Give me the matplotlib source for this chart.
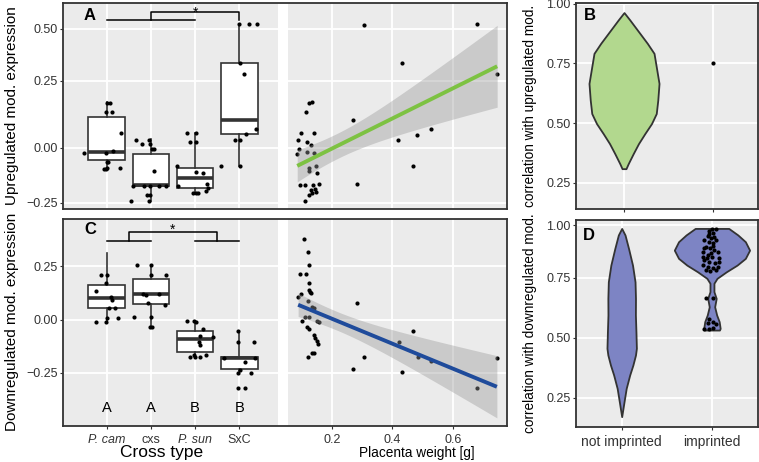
import numpy as np
import matplotlib
matplotlib.use('Agg')
import matplotlib.pyplot as plt
from matplotlib.ticker import NullLocator

plt.rcParams['font.family'] = ['Liberation Sans', 'DejaVu Sans']

# ------------------------------------------------------------------ data
cross_types = ['P. cam', 'cxs', 'P. sun', 'SxC']
cross_italic = [True, False, True, False]
group_letters = ['A', 'A', 'B', 'B']
imprint_cats = ['not imprinted', 'imprinted']

# Panel A boxplot statistics (upregulated module expression)
A_q1 = [-0.056, -0.173, -0.185, 0.050]
A_med = [-0.021, -0.170, -0.139, 0.103]
A_q3 = [0.116, -0.030, -0.091, 0.334]
A_lo = [-0.101, -0.241, -0.205, -0.083]
A_hi = [0.172, 0.031, 0.056, 0.523]

# Panel A jittered points (jittered category position, value)
A_pts_x = [1.014, 1.075, 0.984, 1.113, 1.317, 0.486, 0.984, 1.149, 1.036, 1.014, 0.939, 0.984, 1.0, 1.301,
           1.667, 1.796, 1.968, 1.984, 2.023, 2.075, 2.075, 1.606, 1.833, 1.984, 2.172, 2.346, 1.923, 1.984, 1.548, 1.968,
           2.826, 3.023, 2.887, 3.023, 2.593, 3.023, 3.188, 2.609, 3.265, 2.955, 3.023, 3.057, 3.242, 3.299,
           4.0, 4.219, 4.407, 4.016, 4.113, 4.378, 4.152, 3.903, 4.016, 3.579, 4.016]
A_pts_y = [0.168, 0.168, 0.134, 0.134, 0.056, -0.025, -0.023, -0.015, -0.065, -0.065, -0.097, -0.097, -0.094, -0.094,
           0.029, 0.013, 0.029, 0.013, -0.007, -0.007, -0.106, -0.173, -0.173, -0.173, -0.173, -0.173, -0.215, -0.215, -0.241, -0.241,
           0.056, 0.056, 0.020, 0.020, -0.082, -0.110, -0.114, -0.174, -0.165, -0.205, -0.205, -0.205, -0.195, -0.184,
           0.523, 0.523, 0.523, 0.334, 0.282, 0.069, 0.050, 0.029, 0.029, -0.083, -0.083]

# Panel C boxplot statistics (downregulated module expression)
C_q1 = [0.056, 0.072, -0.150, -0.233]
C_med = [0.100, 0.119, -0.092, -0.181]
C_q3 = [0.163, 0.190, -0.053, -0.177]
C_lo = [-0.014, -0.030, -0.174, -0.241]
C_hi = [0.312, 0.257, -0.005, -0.053]

C_pts_x = [0.871, 1.014, 0.751, 0.995, 1.097, 1.109, 1.059, 1.188, 1.251, 0.769, 0.991, 1.0,
           1.690, 1.991, 2.342, 2.0, 1.826, 1.898, 2.172, 1.928, 2.324, 1.615, 2.0, 1.973, 2.018,
           2.819, 2.982, 3.023, 3.188, 3.396, 3.113, 3.086, 3.113, 2.968, 3.249, 2.887, 3.0, 3.113,
           3.971, 3.982, 4.339, 3.665, 4.355, 4.122, 4.016, 3.975, 4.274, 3.966, 4.136]
C_pts_y = [0.210, 0.210, 0.135, 0.172, 0.107, 0.092, 0.055, 0.055, 0.007, -0.009, -0.009, 0.007,
           0.255, 0.255, 0.210, 0.210, 0.119, 0.117, 0.119, 0.077, 0.069, 0.014, 0.014, -0.032, -0.032,
           -0.005, -0.005, -0.010, -0.045, -0.083, -0.077, -0.105, -0.120, -0.166, -0.166, -0.174, -0.174, -0.174,
           -0.053, -0.106, -0.106, -0.181, -0.181, -0.199, -0.236, -0.248, -0.248, -0.322, -0.322]

# Scatter: placenta weight vs upregulated module expression
SA_x = [0.307, 0.681, 0.747, 0.433, 0.271, 0.527, 0.483, 0.420, 0.469, 0.285,
        0.126, 0.134, 0.114, 0.100, 0.143, 0.090, 0.117, 0.131, 0.093, 0.086, 0.119, 0.140, 0.148,
        0.124, 0.124, 0.152, 0.096, 0.112, 0.139, 0.158, 0.145, 0.136, 0.126, 0.112, 0.131, 0.148]
SA_y = [0.519, 0.523, 0.282, 0.334, 0.103, 0.069, 0.049, 0.029, -0.082, -0.164,
        0.166, 0.171, 0.134, 0.056, 0.056, 0.029, 0.022, 0.009, -0.007, -0.028, -0.018, -0.023, -0.082,
        -0.094, -0.106, -0.115, -0.168, -0.170, -0.170, -0.164, -0.188, -0.205, -0.215, -0.241, -0.192, -0.200]

# Scatter: placenta weight vs downregulated module expression
SC_x = [0.110, 0.121, 0.126, 0.095, 0.115, 0.126, 0.126, 0.131, 0.128, 0.089, 0.099, 0.123, 0.135, 0.142,
        0.112, 0.125, 0.151, 0.159, 0.101, 0.117, 0.125, 0.140, 0.145, 0.150, 0.154, 0.135, 0.143, 0.120,
        0.285, 0.307, 0.272, 0.469, 0.421, 0.484, 0.528, 0.432, 0.679, 0.746]
SC_y = [0.379, 0.316, 0.257, 0.215, 0.213, 0.174, 0.139, 0.124, 0.131, 0.109, 0.121, 0.088, 0.062, 0.057,
        0.014, 0.013, -0.006, -0.012, -0.006, -0.032, -0.044, -0.074, -0.085, -0.102, -0.113, -0.154, -0.156, -0.174,
        0.080, -0.175, -0.230, -0.052, -0.103, -0.177, -0.194, -0.244, -0.319, -0.178]

# Violin outlines (value, half-width in category units)
B_not_v = [0.963, 0.932, 0.876, 0.834, 0.792, 0.736, 0.666, 0.596, 0.540, 0.498, 0.456, 0.414, 0.372, 0.330, 0.309]
B_not_hw = [0.0, 0.065, 0.177, 0.261, 0.336, 0.361, 0.392, 0.378, 0.361, 0.308, 0.233, 0.162, 0.103, 0.047, 0.022]
B_imp_x = [1.996]
B_imp_y = [0.75]

D_not_v = [0.984, 0.953, 0.889, 0.810, 0.733, 0.664, 0.595, 0.525, 0.456, 0.428, 0.386, 0.345, 0.289, 0.233, 0.171]
D_not_hw = [0.0, 0.037, 0.076, 0.120, 0.148, 0.153, 0.152, 0.158, 0.163, 0.153, 0.124, 0.089, 0.050, 0.026, 0.0]
D_imp_v = [0.984, 0.953, 0.921, 0.881, 0.842, 0.810, 0.778, 0.7475, 0.727, 0.692, 0.664, 0.629, 0.595, 0.567, 0.539, 0.532]
D_imp_hw = [0.186, 0.287, 0.370, 0.417, 0.370, 0.278, 0.158, 0.056, 0.022, 0.022, 0.047, 0.030, 0.052, 0.080, 0.091, 0.083]
D_imp_px = [2.0, 2.044, 1.970, 2.015, 1.952, 1.989, 1.915, 1.963, 2.007, 1.933,
            1.978, 2.026, 2.063, 1.896, 1.952, 2.0, 2.081, 1.915, 1.970, 2.037,
            1.896, 1.952, 2.007, 1.978, 2.044, 1.933, 2.081, 1.915, 2.044, 1.989,
            1.941, 2.015, 1.896, 2.063, 1.963, 2.026,
            1.933, 2.007, 1.970, 2.007, 1.952, 2.044, 1.915, 1.970, 2.007]
D_imp_py = [0.981, 0.981, 0.972, 0.961, 0.949, 0.937, 0.929, 0.921, 0.913, 0.897,
            0.889, 0.881, 0.873, 0.870, 0.858, 0.850, 0.842, 0.834, 0.826, 0.818,
            0.810, 0.802, 0.795, 0.782, 0.787, 0.787, 0.826, 0.889, 0.929, 0.866,
            0.842, 0.902, 0.850, 0.802, 0.956, 0.944,
            0.664, 0.664, 0.578, 0.567, 0.560, 0.556, 0.535, 0.535, 0.539]

# ------------------------------------------------------------------ helpers
W, H = 759, 462
GREY = '#EBEBEB'
EDGE = '#333333'
TXT = '#333333'


def box(x0, y0, x1, y1):
    return [x0 / W, 1 - y1 / H, (x1 - x0) / W, (y1 - y0) / H]


def piecewise(vals, pos):
    vals = np.asarray(vals, float)
    pos = np.asarray(pos, float)
    s_lo = (pos[1] - pos[0]) / (vals[1] - vals[0])
    s_hi = (pos[-1] - pos[-2]) / (vals[-1] - vals[-2])

    def fwd(v):
        v = np.asarray(v, float)
        out = np.interp(v, vals, pos)
        out = np.where(v < vals[0], pos[0] + (v - vals[0]) * s_lo, out)
        out = np.where(v > vals[-1], pos[-1] + (v - vals[-1]) * s_hi, out)
        return out

    def inv(t):
        t = np.asarray(t, float)
        out = np.interp(t, pos, vals)
        out = np.where(t < pos[0], vals[0] + (t - pos[0]) / s_lo, out)
        out = np.where(t > pos[-1], vals[-1] + (t - pos[-1]) / s_hi, out)
        return out
    return fwd, inv


def style(ax, spines=False):
    ax.set_facecolor(GREY)
    for s in ax.spines.values():
        s.set_visible(spines)
        s.set_color(EDGE)
        s.set_linewidth(1.3)
    ax.grid(True, color='white', lw=1.3)
    ax.set_axisbelow(True)
    ax.tick_params(length=2.5, width=0.8, color=EDGE, labelcolor=TXT, labelsize=9, pad=1.5)
    ax.yaxis.set_minor_locator(NullLocator())
    ax.xaxis.set_minor_locator(NullLocator())


def lm_band(x, y, xs, scale=None, t=2.03):
    """Linear fit with 95% band, computed in the axis' (scaled) y space."""
    x = np.asarray(x, float)
    y = np.asarray(y, float)
    fwd, inv = scale if scale is not None else (lambda v: v, lambda v: v)
    yt = fwd(y)
    b, a = np.polyfit(x, yt, 1)
    yh = a + b * xs
    n = len(x)
    s = np.sqrt(np.sum((yt - (a + b * x)) ** 2) / (n - 2))
    se = s * np.sqrt(1 / n + (xs - x.mean()) ** 2 / np.sum((x - x.mean()) ** 2))
    return inv(yh), inv(yh - t * se), inv(yh + t * se)


def stats(q1, med, q3, lo, hi):
    return [dict(q1=a, med=b, q3=c, whislo=d, whishi=e, fliers=[])
            for a, b, c, d, e in zip(q1, med, q3, lo, hi)]


fig = plt.figure(figsize=(7.59, 4.62), dpi=100)

fA = piecewise([-0.25, 0, 0.25, 0.5], [0, 55, 122, 173.7])
fD = piecewise([0.25, 0.5, 0.75, 1.0], [0, 60, 120, 172.7])

axA = fig.add_axes(box(63, 3, 278, 209)); style(axA)
axAs = fig.add_axes(box(288, 3, 507, 209)); style(axAs)
axC = fig.add_axes(box(63, 219, 278, 426)); style(axC)
axCs = fig.add_axes(box(288, 219, 507, 426)); style(axCs)
axB = fig.add_axes(box(576, 3, 758, 209)); style(axB, True)
axD = fig.add_axes(box(576, 220, 758, 427)); style(axD, True)

for y0, y1 in [(3, 209), (219, 426)]:
    f = fig.add_axes(box(63, y0, 507, y1))
    f.set_facecolor('none')
    f.set_xticks([]); f.set_yticks([])
    for s in f.spines.values():
        s.set_color(EDGE); s.set_linewidth(1.3)
    f.set_zorder(10)

bprops = dict(widths=0.83, patch_artist=True, showcaps=False, showfliers=False,
              boxprops=dict(facecolor='white', edgecolor=EDGE, linewidth=1.2),
              whiskerprops=dict(color=EDGE, linewidth=1.2),
              medianprops=dict(color=EDGE, linewidth=2.6), zorder=2)

# ---------------- Panel A left (boxplot)
for ax in (axA, axAs):
    ax.set_yscale('function', functions=fA)
    ax.set_ylim(-0.2786, 0.6257)
    ax.set_yticks([-0.25, 0, 0.25, 0.5])
    ax.yaxis.set_minor_locator(NullLocator())
axA.set_yticklabels(['\u22120.25', '0.00', '0.25', '0.50'])
axA.bxp(stats(A_q1, A_med, A_q3, A_lo, A_hi), positions=[1, 2, 3, 4], **bprops)
axA.scatter(A_pts_x, A_pts_y, s=9, color='black', lw=0, zorder=3)
axA.set_xlim(0.011, 4.876)
axA.set_xticks([1, 2, 3, 4])
axA.tick_params(axis='x', length=0, labelbottom=False)
axA.plot([1, 3], [0.544, 0.544], color='black', lw=1.1)
axA.plot([2, 2, 4, 4], [0.544, 0.584, 0.584, 0.544], color='black', lw=1.1)
axA.text(3, 0.558, '*', ha='center', va='baseline', fontsize=10, color='black')

# ---------------- Panel A right (scatter)
axAs.scatter(SA_x, SA_y, s=9, color='black', lw=0, zorder=2)
xs = np.linspace(min(SA_x), max(SA_x), 120)
yh, lo, hi = lm_band(SA_x, SA_y, xs, scale=fA)
axAs.fill_between(xs, lo, hi, color='#999999', alpha=0.4, lw=0, zorder=3)
axAs.plot(xs, yh, color='#7DC242', lw=2.8, zorder=4, solid_capstyle='butt')
axAs.set_xlim(0.0555, 0.7795)
axAs.set_xticks([0.2, 0.4, 0.6])
axAs.tick_params(axis='both', length=0, labelbottom=False, labelleft=False)

# ---------------- Panel C left (boxplot)
for ax in (axC, axCs):
    ax.set_ylim(-0.499, 0.473)
    ax.set_yticks([-0.25, 0, 0.25])
axC.set_yticklabels(['\u22120.25', '0.00', '0.25'])
axC.bxp(stats(C_q1, C_med, C_q3, C_lo, C_hi), positions=[1, 2, 3, 4], **bprops)
axC.scatter(C_pts_x, C_pts_y, s=9, color='black', lw=0, zorder=3)
axC.set_xlim(0.011, 4.876)
axC.set_xticks([1, 2, 3, 4])
axC.set_xticklabels(cross_types)
for lab, it in zip(axC.get_xticklabels(), cross_italic):
    if it:
        lab.set_fontstyle('italic')
axC.tick_params(axis='x', pad=3)
axC.plot([1, 2], [0.371, 0.371], color='black', lw=1.1)
axC.plot([3, 4], [0.371, 0.371], color='black', lw=1.1)
axC.plot([1.5, 1.5, 3.5, 3.5], [0.371, 0.413, 0.413, 0.371], color='black', lw=1.1)
axC.text(2.5, 0.402, '*', ha='center', va='baseline', fontsize=10, color='black')
for i, g in enumerate(group_letters):
    axC.text(i + 1, -0.416, g, ha='center', va='center', fontsize=10.5, color='black')

# ---------------- Panel C right (scatter)
axCs.scatter(SC_x, SC_y, s=9, color='black', lw=0, zorder=2)
xs = np.linspace(min(SC_x), max(SC_x), 120)
yh, lo, hi = lm_band(SC_x, SC_y, xs)
axCs.fill_between(xs, lo, hi, color='#999999', alpha=0.4, lw=0, zorder=3)
axCs.plot(xs, yh, color='#1F4B9B', lw=2.8, zorder=4, solid_capstyle='butt')
axCs.set_xlim(0.0555, 0.7795)
axCs.set_xticks([0.2, 0.4, 0.6])
axCs.set_xticklabels(['0.2', '0.4', '0.6'])
axCs.tick_params(axis='y', length=0, labelleft=False)
axCs.tick_params(axis='x', pad=3)

# ---------------- Panel B (violins, upregulated)
vb = np.array(B_not_v); hb = np.array(B_not_hw)
axB.fill_betweenx(vb, 1 - hb, 1 + hb, facecolor='#B2D88E', edgecolor=EDGE, lw=1.3, zorder=2)
axB.scatter(B_imp_x, B_imp_y, s=9, color='black', lw=0, zorder=3)
axB.set_xlim(0.4625, 2.5)
axB.set_ylim(0.14, 1.003)
axB.set_xticks([1, 2])
axB.tick_params(axis='x', labelbottom=False)
axB.set_yticks([0.25, 0.5, 0.75, 1.0])
axB.set_yticklabels(['0.25', '0.50', '0.75', '1.00'])

# ---------------- Panel D (violins, downregulated)
axD.set_yscale('function', functions=fD)
vd = np.array(D_not_v); hd = np.array(D_not_hw)
axD.fill_betweenx(vd, 1 - hd, 1 + hd, facecolor='#7D84C4', edgecolor=EDGE, lw=1.3, zorder=2)
vi = np.array(D_imp_v); hi_ = np.array(D_imp_hw)
axD.fill_betweenx(vi, 2 - hi_, 2 + hi_, facecolor='#7D84C4', edgecolor=EDGE, lw=1.3, zorder=2)
axD.scatter(D_imp_px, D_imp_py, s=9, color='black', lw=0, zorder=3)
axD.set_xlim(0.494, 2.51)
axD.set_ylim(0.128, 1.024)
axD.set_yticks([0.25, 0.5, 0.75, 1.0])
axD.yaxis.set_minor_locator(NullLocator())
axD.set_yticklabels(['0.25', '0.50', '0.75', '1.00'])
axD.set_xticks([1, 2])
axD.set_xticklabels(imprint_cats, fontsize=10)
axD.tick_params(axis='x', pad=3)


# ---------------- texts
def ftext(px, py, s, **kw):
    fig.text(px / W, 1 - py / H, s, **kw)


ftext(90, 15, 'A', fontsize=12, fontweight='bold', ha='center', va='center')
ftext(90, 230, 'C', fontsize=12, fontweight='bold', ha='center', va='center')
ftext(590, 16, 'B', fontsize=12, fontweight='bold', ha='center', va='center')
ftext(589, 235, 'D', fontsize=12, fontweight='bold', ha='center', va='center')

ftext(12, 106, 'Upregulated mod. expression', rotation=90, fontsize=11, ha='center', va='center')
ftext(12, 322, 'Downregulated mod. expression', rotation=90, fontsize=11, ha='center', va='center')
ftext(530, 106, 'correlation with upregulated mod.', rotation=90, fontsize=9.8, ha='center', va='center')
ftext(530, 323, 'correlation with downregulated mod.', rotation=90, fontsize=9.8, ha='center', va='center')
ftext(162, 453, 'Cross type', fontsize=12.5, ha='center', va='center')
ftext(417, 453, 'Placenta weight [g]', fontsize=9.8, ha='center', va='center')

fig.savefig('out.png', dpi=100)
